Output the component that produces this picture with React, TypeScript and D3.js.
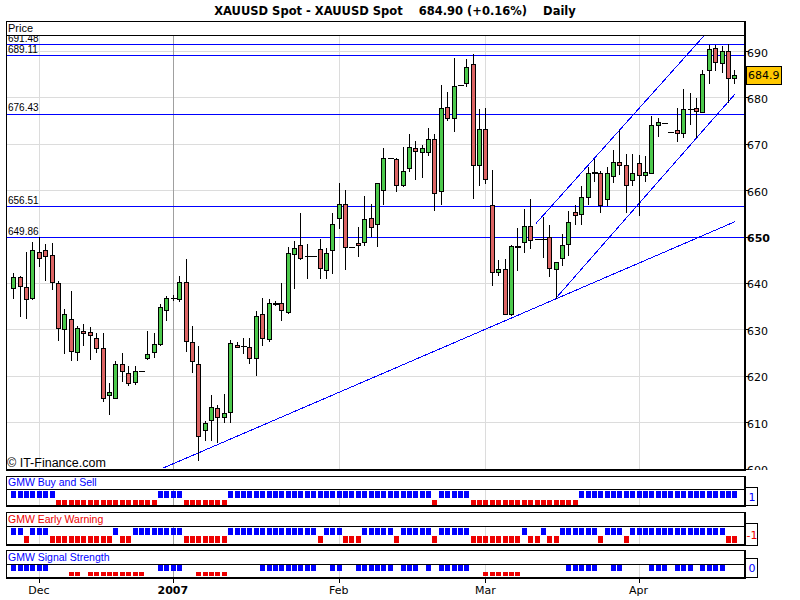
import React, {useEffect} from 'react';
import * as d3 from 'd3';

// daily XAUUSD candles, one per bar
const opens = [
  639.0, 641.3, 639.2, 636.8, 646.7, 647.1, 646.0, 640.0, 630.0, 632.3,
  625.2, 629.7, 629.5, 628.2, 625.9, 615.9, 615.2, 622.5, 620.6, 618.6,
  621.1, 623.8, 625.1, 626.9, 634.1, 636.7, 636.5, 640.3, 627.3, 622.5,
  608.3, 610.4, 613.0, 611.2, 612.1, 626.7, 626.4, 626.2, 623.8, 633.2,
  628.0, 635.5, 635.7, 633.8, 646.3, 648.2, 645.8, 645.8, 647.4, 642.7,
  647.0, 654.1, 657.1, 647.8, 648.7, 648.9, 654.1, 652.6, 660.1, 666.9,
  666.7, 661.2, 664.7, 669.0, 668.3, 668.3, 671.0, 659.8, 678.0, 675.5,
  682.6, 683.2, 687.2, 665.4, 673.2, 656.7, 642.4, 642.9, 633.3, 647.8,
  648.9, 652.3, 649.4, 649.4, 650.0, 643.1, 645.4, 648.5, 655.3, 654.9,
  658.6, 664.0, 663.8, 658.0, 663.1, 666.0, 665.4, 662.2, 665.8, 663.3,
  663.8, 674.1, 674.4, 672.6, 672.9, 672.4, 677.5, 677.7, 676.9, 685.8,
  690.6, 687.4, 689.9, 684.1
];
const highs = [
  642.1, 641.6, 646.7, 648.9, 650.0, 648.5, 648.7, 640.4, 634.3, 638.2,
  630.7, 631.2, 630.5, 629.2, 629.2, 618.4, 623.1, 624.8, 622.0, 622.2,
  621.1, 629.7, 629.2, 635.4, 637.2, 637.4, 641.5, 645.2, 630.7, 626.5,
  610.3, 615.9, 613.6, 616.1, 627.8, 627.3, 628.2, 628.2, 633.9, 636.7,
  636.6, 636.1, 640.0, 647.8, 649.0, 655.0, 648.3, 645.8, 649.4, 647.6,
  655.0, 661.5, 660.0, 647.8, 652.1, 658.8, 657.0, 661.6, 669.0, 666.9,
  667.0, 669.3, 672.1, 670.5, 669.8, 673.4, 672.1, 682.7, 681.1, 688.5,
  682.6, 688.3, 689.3, 677.6, 677.7, 664.3, 644.9, 645.1, 648.1, 651.9,
  656.0, 658.0, 649.4, 654.2, 652.4, 644.6, 650.5, 655.5, 656.8, 660.9,
  665.1, 666.7, 664.2, 665.1, 668.6, 672.9, 667.7, 667.7, 667.5, 667.3,
  675.9, 675.5, 674.4, 672.6, 677.7, 681.8, 680.9, 679.8, 685.9, 691.3,
  691.3, 691.1, 691.5, 686.0
];
const lows = [
  636.7, 632.8, 632.5, 636.6, 643.6, 640.6, 638.7, 627.7, 624.9, 623.3,
  623.3, 626.7, 623.6, 625.1, 614.5, 611.7, 615.2, 618.8, 618.0, 618.3,
  621.1, 623.5, 624.0, 626.7, 632.0, 636.3, 636.1, 625.3, 620.7, 601.9,
  606.1, 606.1, 605.7, 610.0, 610.0, 626.2, 624.9, 622.8, 620.1, 626.6,
  627.4, 635.2, 632.0, 633.6, 639.0, 645.1, 641.1, 645.8, 641.1, 641.1,
  642.2, 651.9, 642.9, 647.8, 645.9, 648.2, 650.1, 647.9, 657.1, 666.9,
  659.8, 660.8, 664.2, 662.5, 662.9, 667.6, 655.7, 657.0, 675.2, 672.8,
  682.6, 682.5, 658.4, 661.1, 661.5, 639.5, 641.8, 633.2, 633.1, 642.8,
  646.7, 647.5, 649.4, 645.6, 641.5, 636.8, 643.9, 646.0, 652.6, 652.6,
  657.0, 662.0, 655.2, 656.8, 661.8, 663.4, 655.3, 661.1, 654.6, 661.9,
  663.8, 671.6, 674.4, 672.6, 670.6, 671.4, 674.2, 671.5, 676.9, 683.2,
  685.8, 685.4, 679.1, 683.1
];
const closes = [
  641.3, 639.3, 636.6, 647.1, 645.4, 645.9, 640.3, 630.2, 633.3, 625.4,
  630.3, 629.2, 628.7, 625.9, 615.2, 616.5, 622.5, 621.0, 618.4, 621.0,
  621.1, 624.7, 626.9, 634.9, 636.7, 636.7, 640.3, 627.4, 623.1, 607.1,
  609.8, 613.3, 611.2, 611.9, 627.1, 626.2, 626.4, 623.8, 632.8, 628.2,
  635.7, 635.7, 634.1, 646.5, 647.6, 645.4, 645.8, 645.8, 643.3, 646.5,
  652.8, 657.1, 647.8, 647.8, 648.2, 653.7, 652.1, 661.6, 666.9, 666.9,
  661.2, 664.2, 669.4, 668.5, 669.0, 671.1, 659.3, 677.8, 675.5, 682.5,
  682.6, 686.5, 665.4, 673.2, 662.5, 642.4, 643.1, 633.4, 647.9, 648.0,
  652.3, 649.3, 649.4, 649.4, 643.3, 644.6, 648.1, 653.2, 654.7, 658.6,
  663.8, 663.6, 656.8, 663.8, 666.0, 665.5, 661.1, 663.6, 663.3, 663.9,
  674.1, 674.6, 674.4, 672.6, 672.4, 677.5, 677.5, 677.1, 685.0, 690.4,
  687.6, 689.9, 684.1, 684.9
];

// indicator signals per bar: 1 = buy (blue), -1 = sell (red), 0 = none
const buySell = [
  1, 1, 1, 1, 1, 1, 1, -1, -1, -1, -1, -1, -1, -1, -1, -1, -1, -1, -1, -1,
  -1, -1, -1, 1, 1, 1, 1, -1, -1, -1, -1, -1, -1, -1, 1, 1, 1, 1, 1, 1,
  1, 1, 1, 1, 1, 1, 1, 1, 1, 1, 1, 1, 1, 1, 1, 1, 1, 1, 1, 1,
  1, 1, 1, 1, 1, 1, -1, 1, 1, 1, 1, 1, -1, -1, -1, -1, -1, -1, -1, -1,
  -1, -1, -1, -1, -1, -1, -1, -1, -1, 1, 1, 1, 1, 1, 1, 1, 1, 1, 1, 1,
  1, 1, 1, 1, 1, 1, 1, 1, 1, 1, 1, 1, 1, 1
];
const earlyWarning = [
  1, 1, -1, 1, 1, 1, -1, -1, -1, -1, -1, -1, -1, -1, -1, -1, 1, -1, -1, 1,
  1, 1, 1, 1, 1, 1, 1, -1, -1, -1, -1, -1, -1, -1, 1, 1, 1, 1, 1, 1,
  1, 1, 1, 1, 1, 1, 1, 1, -1, 1, 1, 1, -1, -1, -1, 1, 1, 1, 1, 1,
  -1, 1, 1, 1, 1, 1, -1, 1, 1, 1, 1, 1, -1, -1, -1, -1, -1, -1, -1, -1,
  1, -1, -1, 1, -1, -1, 1, 1, 1, 1, 1, 1, -1, 1, 1, 1, -1, 1, 1, 1,
  1, 1, 1, 1, 1, 1, 1, 1, 1, 1, 1, 1, -1, -1
];
const signalStrength = [
  1, 1, 1, 1, 1, 1, 0, 0, 0, -1, -1, 0, -1, -1, -1, -1, -1, -1, -1, -1,
  -1, 0, 0, 1, 1, 1, 1, 0, 0, -1, -1, -1, -1, -1, 0, 0, 0, 0, 0, 1,
  1, 1, 1, 1, 1, 1, 1, 1, 0, 0, 1, 1, 0, 0, 1, 1, 1, 1, 1, 1,
  0, 1, 1, 1, 0, 1, 0, 1, 1, 1, 1, 1, 0, 0, -1, -1, -1, -1, -1, -1,
  0, 0, 0, 0, 0, 0, 0, 1, 1, 1, 1, 1, 0, 0, 1, 1, 0, 0, 0, 0,
  1, 1, 1, 0, 1, 1, 1, 0, 1, 1, 1, 1, 0, 0
];

const monthIndex = [4, 25, 51, 74, 98];
const monthLabels = ['Dec', '2007', 'Feb', 'Mar', 'Apr'];

const levelValues = [691.48, 689.11, 676.43, 656.51, 649.86];

// trend lines as [bar index, price] end points
const trendLines = [
  [[23.5, 600.1], [113.1, 653.2]],
  [[85.1, 636.8], [113.1, 680.7]],
  [[81.9, 652.8], [108.4, 693.5]]
];

const titleText = 'XAUUSD Spot - XAUUSD Spot    684.90 (+0.16%)    Daily';

const GREEN = '#4cc94c';
const RED = '#dc6464';
const BLUE = '#0000ff';
const SIG_RED = '#ee0000';
const AXIS_FONT = 'DejaVu Sans, Verdana, sans-serif';
const LABEL_FONT = 'Liberation Sans, Arial, sans-serif';

function App() {
  useEffect(() => {
    document.body.style.margin = '0';
  }, []);

  const left = 6, right = 744, top = 21, header = 35, bottom = 469;

  const x = d3.scaleLinear().domain([0, closes.length - 1]).range([13.3, 734.3]);
  const y = d3.scaleLinear().domain([600, 690]).range([468.5, 51]);
  const yTicks = d3.range(600, 691, 10);
  const gridTicks = yTicks.filter(v => v > 600);
  const trend = d3.line<number[]>().x(d => x(d[0])).y(d => y(d[1]));
  const px = (i: number) => Math.round(x(i)) + 0.5;

  const panels = [
    {name: 'GMW Buy and Sell', color: BLUE, top: 476, sep: 489, bottom: 505,
      blue: [491, 497.5], red: [499.5, 504.5], box: [487, 505], values: buySell},
    {name: 'GMW Early Warning', color: SIG_RED, top: 512, sep: 526, bottom: 544,
      blue: [527.5, 534.5], red: [536, 542.5], box: [523, 545], values: earlyWarning},
    {name: 'GMW Signal Strength', color: BLUE, top: 550, sep: 564, bottom: 577,
      blue: [565, 571], red: [572, 575.5], box: [558, 577], values: signalStrength}
  ];

  const last = closes[closes.length - 1];

  return (
    <svg width={800} height={600} style={{position: 'absolute', left: 0, top: 0, background: '#fff'}}>
      <defs>
        <clipPath id="plot-clip">
          <rect x={left + 1} y={header + 0.5} width={right - left - 1} height={bottom - header}/>
        </clipPath>
        <clipPath id="axis-clip">
          <rect x={740} y={20} width={60} height={bottom - 19}/>
        </clipPath>
      </defs>

      <text x={395} y={15} textAnchor="middle" fontFamily={AXIS_FONT} fontSize={11.5}
            fontWeight="bold" style={{whiteSpace: 'pre'}}>{titleText}</text>

      {/* main price panel */}
      <g clipPath="url(#plot-clip)" shapeRendering="crispEdges">
        {gridTicks.map(v => (
          <line key={v} x1={left} x2={right} y1={Math.round(y(v)) + 0.5} y2={Math.round(y(v)) + 0.5}
                stroke="#dcdcdc"/>
        ))}
        {monthIndex.map((m, k) => (
          <line key={m} x1={px(m)} x2={px(m)} y1={header} y2={bottom}
                stroke={k === 1 ? '#a0a0a0' : '#dcdcdc'}/>
        ))}
        {levelValues.map(v => (
          <g key={v}>
            <line x1={left} x2={right} y1={Math.round(y(v)) + 0.5} y2={Math.round(y(v)) + 0.5} stroke={BLUE}/>
            <text x={8} y={y(v) - 2.5} fontFamily={LABEL_FONT} fontSize={10}>{v.toFixed(2)}</text>
          </g>
        ))}
        {trendLines.map((t, k) => (
          <path key={k} d={trend(t) || ''} stroke={BLUE} strokeWidth={1} fill="none"/>
        ))}
      </g>
      <g shapeRendering="crispEdges">
        {closes.map((c, i) => {
          const o = opens[i], h = highs[i], l = lows[i];
          const cx = px(i);
          const yTop = Math.round(y(Math.max(o, c)));
          const yBot = Math.round(y(Math.min(o, c)));
          return (
            <g key={i}>
              {h > l && <line x1={cx} x2={cx} y1={Math.round(y(h))} y2={Math.round(y(l)) + 1} stroke="#000"/>}
              {yBot - yTop >= 2
                ? <rect x={cx - 2} y={yTop + 0.5} width={4} height={yBot - yTop}
                        fill={c >= o ? GREEN : RED} stroke="#000"/>
                : <line x1={cx - 2.5} x2={cx + 3} y1={yTop + 0.5} y2={yTop + 0.5} stroke="#000" strokeWidth={yBot > yTop ? 2 : 1}/>}
            </g>
          );
        })}
      </g>
      <text x={7} y={466.5} fontFamily={LABEL_FONT} fontSize={12.5}>© IT-Finance.com</text>

      {/* frame of price panel */}
      <g shapeRendering="crispEdges" fill="none" stroke="#000">
        <rect x={left + 0.5} y={top + 0.5} width={right - left} height={bottom - top}/>
        <line x1={left} x2={right + 1} y1={header + 0.5} y2={header + 0.5}/>
        <line x1={right + 1.5} x2={right + 1.5} y1={top} y2={bottom + 2}/>
        <line x1={left} x2={right + 2} y1={bottom + 1.5} y2={bottom + 1.5}/>
      </g>
      <text x={8} y={32} fontFamily={LABEL_FONT} fontSize={11}>Price</text>

      {/* right price axis */}
      <g fontFamily={AXIS_FONT} fontSize={11}>
        {yTicks.map(v => (
          <g key={v}>
            <line x1={right + 2} x2={right + 5} y1={Math.round(y(v)) + 0.5} y2={Math.round(y(v)) + 0.5}
                  stroke="#000" shapeRendering="crispEdges"/>
            <text x={747} y={y(v) + 5.5} fontWeight={v === 650 ? 'bold' : 'normal'}
                  clipPath="url(#axis-clip)">{v}</text>
          </g>
        ))}
      </g>
      <rect x={746.5} y={Math.round(y(last)) - 8.5} width={35} height={18} fill="#ffc800" stroke="#000"
            shapeRendering="crispEdges"/>
      <text x={748} y={y(last) + 4.5} fontFamily={AXIS_FONT} fontSize={11}>{last.toFixed(1)}</text>

      {/* indicator panels */}
      {panels.map(p => {
        const lastVal = p.values[p.values.length - 1];
        return (
          <g key={p.name}>
            <g shapeRendering="crispEdges">
              {monthIndex.map((m, k) => (
                <line key={m} x1={px(m)} x2={px(m)} y1={p.sep} y2={p.bottom}
                      stroke={k === 1 ? '#a0a0a0' : '#dcdcdc'}/>
              ))}
              {p.values.map((s, i) => s === 0 ? null : (
                <rect key={i} x={px(i) - 2.5} width={5}
                      y={s > 0 ? p.blue[0] : p.red[0]}
                      height={s > 0 ? p.blue[1] - p.blue[0] : p.red[1] - p.red[0]}
                      fill={s > 0 ? BLUE : SIG_RED}/>
              ))}
              <rect x={left + 0.5} y={p.top + 0.5} width={right - left} height={p.bottom - p.top}
                    fill="none" stroke="#000"/>
              <line x1={left} x2={right + 1} y1={p.sep + 0.5} y2={p.sep + 0.5} stroke="#000"/>
              <line x1={right + 1.5} x2={right + 1.5} y1={p.top} y2={p.bottom + 2} stroke="#000"/>
              <line x1={left} x2={right + 2} y1={p.bottom + 1.5} y2={p.bottom + 1.5} stroke="#000"/>
              <rect x={right + 1.5} y={p.box[0] + 0.5} width={12} height={p.box[1] - p.box[0]}
                    fill="#fff" stroke="#000"/>
            </g>
            <text x={8} y={p.sep - 3} fontFamily={LABEL_FONT} fontSize={10.5} fill={p.color}>{p.name}</text>
            <text x={right + 8} y={(p.box[0] + p.box[1]) / 2 + 4.5} textAnchor="middle"
                  fontFamily={AXIS_FONT} fontSize={11}
                  fill={lastVal < 0 ? SIG_RED : BLUE}>{lastVal}</text>
          </g>
        );
      })}

      {/* time axis */}
      <g fontFamily={AXIS_FONT} fontSize={11}>
        {monthIndex.map((m, k) => (
          <g key={m}>
            <line x1={px(m)} x2={px(m)} y1={579} y2={583} stroke="#000" shapeRendering="crispEdges"/>
            <text x={x(m)} y={594} textAnchor="middle" fontWeight={k === 1 ? 'bold' : 'normal'}>
              {monthLabels[k]}
            </text>
          </g>
        ))}
      </g>
    </svg>
  );
}

export default App;
